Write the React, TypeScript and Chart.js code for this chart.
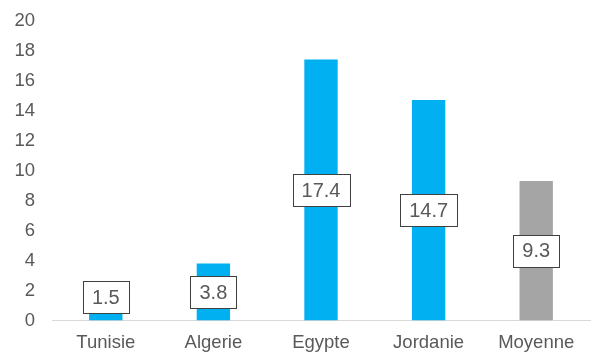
import React, { useEffect, useRef } from "react";
import { Chart, registerables } from "chart.js";

Chart.register(...registerables);

const categories = ["Tunisie", "Algerie", "Egypte", "Jordanie", "Moyenne"];
const values = [1.5, 3.8, 17.4, 14.7, 9.3];
const barColors = ["#00B0F0", "#00B0F0", "#00B0F0", "#00B0F0", "#A5A5A5"];
const yMin = 0;
const yMax = 20;
const yStep = 2;

const FONT = "'Liberation Sans', Arial, sans-serif";

const boxLabels = {
  id: "boxLabels",
  afterDatasetsDraw(chart: any) {
    const ctx = chart.ctx;
    const meta = chart.getDatasetMeta(0);
    const data = chart.data.datasets[0].data as number[];
    ctx.save();
    ctx.font = `20px ${FONT}`;
    ctx.textAlign = "center";
    ctx.textBaseline = "middle";
    meta.data.forEach((bar: any, i: number) => {
      const txt = data[i].toFixed(1);
      const w = ctx.measureText(txt).width + 18;
      const h = 32;
      const mid = (bar.y + bar.base) / 2;
      const cy = Math.min(mid, bar.base - 7.5 - h / 2);
      const x0 = Math.round(bar.x - w / 2) + 0.5;
      const y0 = Math.round(cy - h / 2) + 0.5;
      ctx.fillStyle = "#ffffff";
      ctx.fillRect(x0, y0, Math.round(w), h);
      ctx.strokeStyle = "#404040";
      ctx.lineWidth = 1;
      ctx.strokeRect(x0, y0, Math.round(w), h);
      ctx.fillStyle = "#595959";
      ctx.fillText(txt, bar.x, cy + 1);
    });
    ctx.restore();
  },
};

export default function App() {
  const ref = useRef<HTMLCanvasElement>(null);
  useEffect(() => {
    if (!ref.current) return;
    const chart = new Chart(ref.current, {
      type: "bar",
      data: {
        labels: categories,
        datasets: [
          {
            data: values,
            backgroundColor: barColors,
            barPercentage: 0.31,
            categoryPercentage: 1,
          },
        ],
      },
      options: {
        animation: false,
        responsive: false,
        maintainAspectRatio: false,
        layout: { padding: { top: 20.5, right: 1, left: 0, bottom: 0 } },
        plugins: {
          legend: { display: false },
          tooltip: { enabled: false },
        },
        scales: {
          x: {
            grid: { display: false, drawTicks: false },
            border: { display: true, color: "#D9D9D9", width: 1 },
            ticks: {
              color: "#595959",
              font: { family: FONT, size: 18.5 },
              padding: 11,
            },
            afterFit: (s: any) => {
              s.height = 33.5;
              s.paddingLeft = 0;
              s.paddingRight = 0;
            },
          },
          y: {
            min: yMin,
            max: yMax,
            grid: { display: false, drawTicks: false },
            border: { display: false },
            ticks: {
              stepSize: yStep,
              color: "#595959",
              font: { family: FONT, size: 18.5 },
              padding: 17,
            },
            afterFit: (s: any) => {
              s.width = 52;
              s.paddingTop = 0;
              s.paddingBottom = 0;
            },
          },
        },
      },
      plugins: [boxLabels],
    });
    return () => chart.destroy();
  }, []);
  return (
    <div style={{ position: "fixed", left: 0, top: 0, width: 591, height: 354, background: "#fff" }}>
      <canvas ref={ref} width={591} height={354} style={{ width: 591, height: 354 }} />
    </div>
  );
}
